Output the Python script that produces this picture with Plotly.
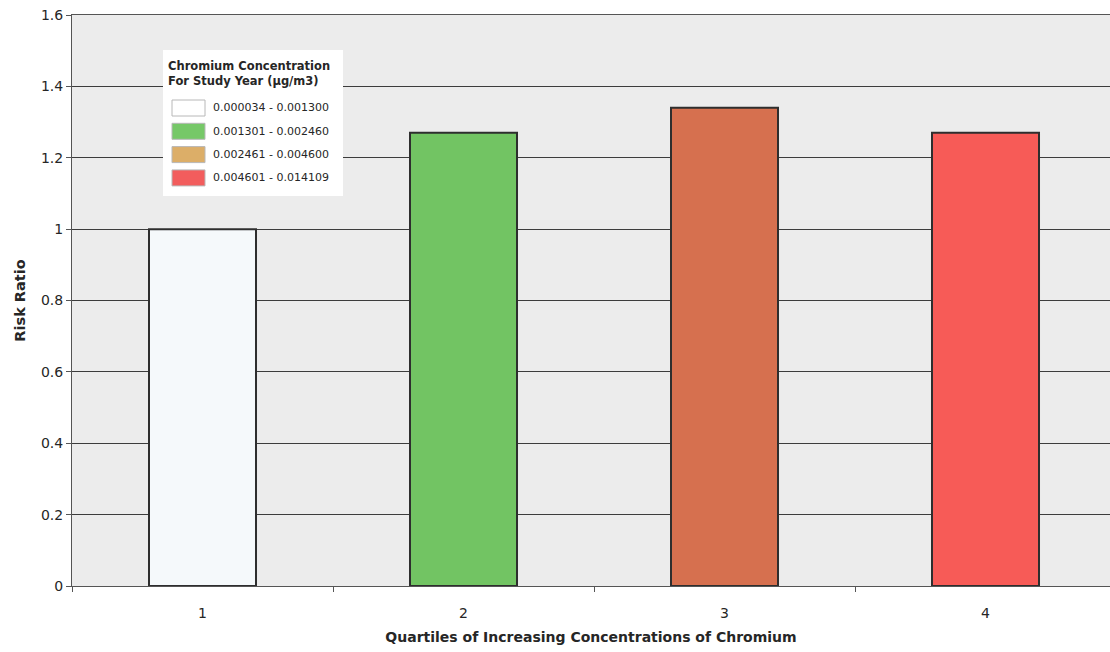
import plotly.graph_objects as go

# Risk ratio by chromium exposure quartile
quartiles = ["1", "2", "3", "4"]
risk_ratio = [1.00, 1.27, 1.34, 1.27]
bar_colors = ["#f5f9fb", "#72c463", "#d6704f", "#f75b57"]

# Concentration ranges shown in the key
legend_title = "Chromium Concentration<br>For Study Year (µg/m3)"
legend_labels = [
    "0.000034 - 0.001300",
    "0.001301 - 0.002460",
    "0.002461 - 0.004600",
    "0.004601 - 0.014109",
]
legend_colors = ["#ffffff", "#76c868", "#dcae68", "#f25d5d"]

W, H = 1110, 652
L, R, T, B = 72, 0, 15, 66
plot_w = W - L - R
plot_h = H - T - B


def px_x(px):
    return (px - L) / plot_w


def px_y(py):
    return (H - B - py) / plot_h


font = "DejaVu Sans, Verdana, sans-serif"
ink = "#262626"

fig = go.Figure()
fig.add_trace(go.Bar(
    x=quartiles,
    y=risk_ratio,
    width=0.41,
    marker=dict(color=bar_colors, line=dict(color="#2e2e2e", width=2)),
    showlegend=False,
    hoverinfo="x+y",
))

shapes = []
annotations = []

# key box
shapes.append(dict(type="rect", xref="paper", yref="paper",
                   x0=px_x(163), x1=px_x(343), y0=px_y(196), y1=px_y(50),
                   fillcolor="#ffffff", line=dict(width=0), layer="above"))
annotations.append(dict(xref="paper", yref="paper", x=px_x(166), y=px_y(57),
                        xanchor="left", yanchor="top", align="left",
                        text="<b>" + legend_title + "</b>", showarrow=False,
                        font=dict(family=font, size=11.5, color=ink)))
for i, (lab, col) in enumerate(zip(legend_labels, legend_colors)):
    cy = 108 + i * 23.3
    shapes.append(dict(type="rect", xref="paper", yref="paper",
                       x0=px_x(172), x1=px_x(205), y0=px_y(cy + 8), y1=px_y(cy - 8),
                       fillcolor=col, line=dict(color="#b8b8b8", width=1),
                       layer="above"))
    annotations.append(dict(xref="paper", yref="paper", x=px_x(211), y=px_y(cy),
                            xanchor="left", yanchor="middle", text=lab,
                            showarrow=False,
                            font=dict(family=font, size=11, color=ink)))

fig.update_layout(
    width=W, height=H,
    margin=dict(l=L, r=R, t=T, b=B, autoexpand=False),
    paper_bgcolor="#ffffff",
    plot_bgcolor="#ececec",
    font=dict(family=font, size=13, color=ink),
    bargap=0.59,
    shapes=shapes,
    annotations=annotations,
    xaxis=dict(
        type="category",
        range=[-0.5, 3.477],
        tickson="boundaries",
        ticks="outside", ticklen=5, tickcolor="#555555",
        ticklabelstandoff=14,
        showgrid=False,
        showline=True, linecolor="#555555", linewidth=1, mirror=True,
        tickfont=dict(size=14, color=ink),
        title=dict(text="<b>Quartiles of Increasing Concentrations of Chromium</b>",
                   font=dict(size=14, color=ink), standoff=12),
        automargin=False,
    ),
    yaxis=dict(
        range=[0, 1.6], dtick=0.2,
        ticks="outside", ticklen=5, tickcolor="#555555",
        showgrid=True, gridcolor="#3c3c3c", gridwidth=1,
        showline=True, linecolor="#555555", linewidth=1,
        zeroline=False,
        tickfont=dict(size=14, color=ink),
        title=dict(text="<b>Risk Ratio</b>",
                   font=dict(size=14.5, color=ink), standoff=11),
        automargin=False,
    ),
)

fig.write_html("out.html")
